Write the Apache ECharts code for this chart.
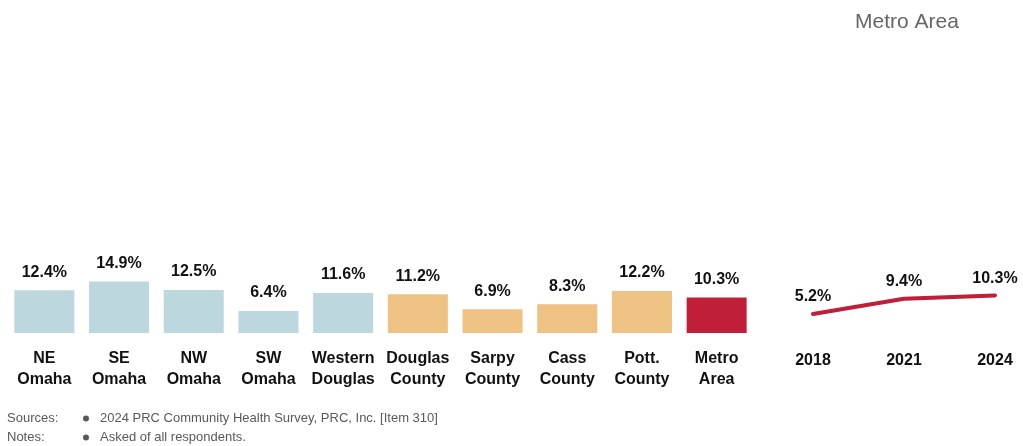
<!DOCTYPE html>
<html>
<head>
<meta charset="utf-8">
<script src="https://cdn.jsdelivr.net/npm/echarts@6/dist/echarts.min.js"></script>
<style>
html,body{margin:0;padding:0;background:#fff;}
#c{width:1023px;height:446px;}
</style>
</head>
<body>
<div id="c"></div>
<script>
var barCategories = ['NE\nOmaha','SE\nOmaha','NW\nOmaha','SW\nOmaha','Western\nDouglas','Douglas\nCounty','Sarpy\nCounty','Cass\nCounty','Pott.\nCounty','Metro\nArea'];
var barValues = [12.4, 14.9, 12.5, 6.4, 11.6, 11.2, 6.9, 8.3, 12.2, 10.3];
var barGroups = ['omaha','omaha','omaha','omaha','omaha','county','county','county','county','metro'];
var trendYears = ['2018','2021','2024'];
var trendValues = [5.2, 9.4, 10.3];
var trendTitle = 'Metro Area';
var sourcesText = '2024 PRC Community Health Survey, PRC, Inc. [Item 310]';
var notesText = 'Asked of all respondents.';

var groupColors = {omaha:'#BDD7DE', county:'#EDC283', metro:'#C01E39'};
var boldFont = "'Liberation Sans',Arial,sans-serif";
var normFont = "'Liberation Sans',Arial,sans-serif";
var pctFmt = function(p){return Number(p.value).toFixed(1)+'%';};

var chart = echarts.init(document.getElementById('c'), null, {renderer:'canvas'});
chart.setOption({
  animation:false,
  backgroundColor:'#fff',
  title:{text:trendTitle, left:850, top:7, textStyle:{fontFamily:normFont, fontWeight:'normal', fontSize:21, color:'#666666'}},
  grid:[
    {left:7, width:747, top:229.5, bottom:113},
    {left:813, right:28, top:223.5, bottom:113}
  ],
  xAxis:[
    {type:'category', gridIndex:0, data:barCategories, axisLine:{show:false}, axisTick:{show:false},
     axisLabel:{interval:0, margin:15, fontFamily:boldFont, fontWeight:'bold', fontSize:16, lineHeight:21, color:'#111'}},
    {type:'category', gridIndex:1, data:trendYears, boundaryGap:false, axisLine:{show:false}, axisTick:{show:false},
     axisLabel:{interval:0, margin:20, fontFamily:boldFont, fontWeight:'bold', fontSize:16, color:'#111'}}
  ],
  yAxis:[
    {type:'value', gridIndex:0, min:0, max:30, show:false},
    {type:'value', gridIndex:1, min:0, max:30, show:false}
  ],
  series:[
    {type:'bar', xAxisIndex:0, yAxisIndex:0, barWidth:60,
     data:barValues.map(function(v,i){return {value:v, itemStyle:{color:groupColors[barGroups[i]]}};}),
     label:{show:true, position:'top', distance:10, formatter:pctFmt,
       fontFamily:boldFont, fontWeight:'bold', fontSize:16, color:'#111'}},
    {type:'line', xAxisIndex:1, yAxisIndex:1, data:trendValues, symbol:'circle', symbolSize:2, showSymbol:true,
     itemStyle:{color:'rgba(192,30,57,0)', borderWidth:0},
     lineStyle:{color:'#C01E39', width:4, cap:'round'},
     label:{show:true, position:'top', distance:8, formatter:pctFmt,
       fontFamily:boldFont, fontWeight:'bold', fontSize:16, color:'#111'}}
  ],
  graphic:[
    {type:'text', left:7, top:412, style:{text:'Sources:', font:'13px '+normFont, fill:'#595959'}},
    {type:'text', left:7, top:431, style:{text:'Notes:', font:'13px '+normFont, fill:'#595959'}},
    {type:'circle', shape:{cx:86, cy:418.5, r:3}, style:{fill:'#595959'}},
    {type:'circle', shape:{cx:86, cy:437.5, r:3}, style:{fill:'#595959'}},
    {type:'text', left:100, top:412, style:{text:sourcesText, font:'13px '+normFont, fill:'#595959'}},
    {type:'text', left:100, top:431, style:{text:notesText, font:'13px '+normFont, fill:'#595959'}}
  ]
});
</script>
</body>
</html>
